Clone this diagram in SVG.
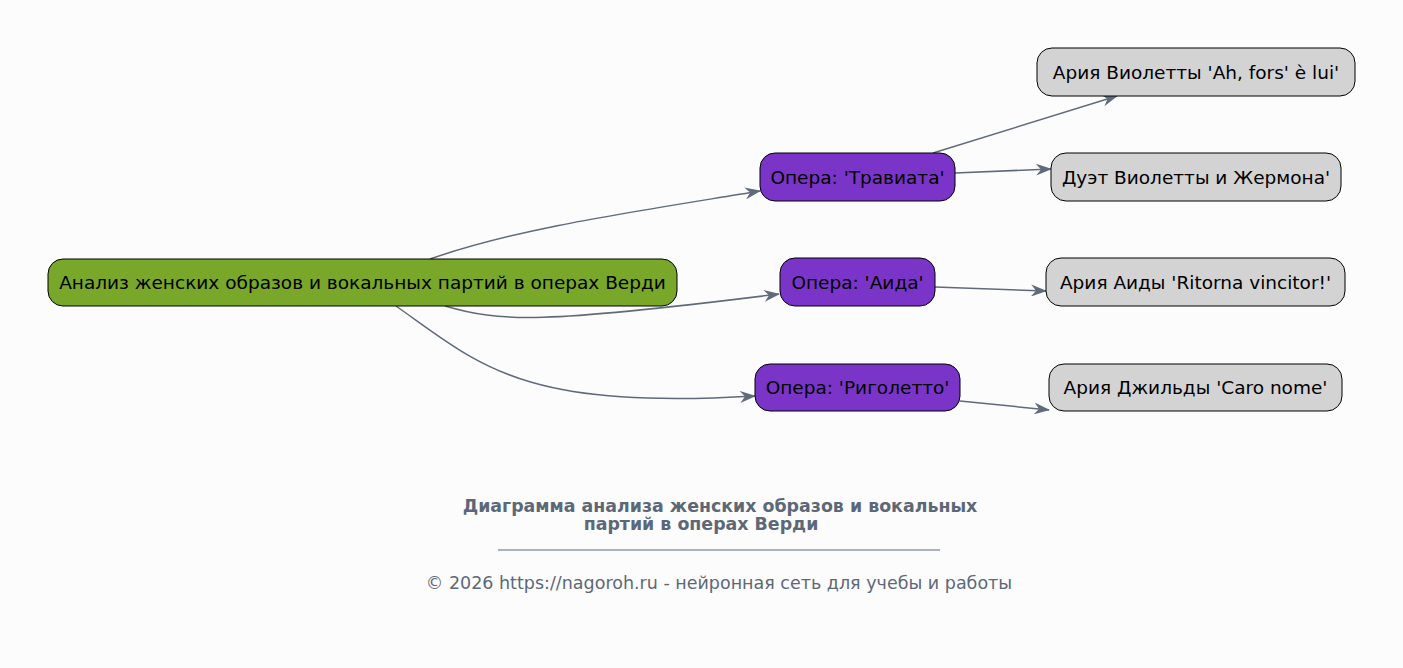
<svg xmlns="http://www.w3.org/2000/svg" width="1403" height="668" viewBox="0 0 1403 668">
<style>
text{font-family:"DejaVu Sans",sans-serif}
.lbl{font-size:18.5px;fill:#000;text-anchor:middle;dominant-baseline:central}
.nd{stroke:#000;stroke-width:1}
.root{fill:#78a72a}
.op{fill:#7a35c8}
.ar{fill:#d3d3d3}
.e{fill:none;stroke:#5f6b7a;stroke-width:1.5;marker-end:url(#a)}
.t{font-size:17.4px;font-weight:bold;fill:#5c6878;text-anchor:middle}
.c{font-size:17.5px;fill:#5c6878;text-anchor:middle}
</style>
<defs>
<marker id="a" viewBox="0 0 16 12" refX="15" refY="6" markerWidth="16" markerHeight="12" markerUnits="userSpaceOnUse" orient="auto">
<path d="M0,0 L16,6 L0,12 L5,6 Z" fill="#5f6b7a"/>
</marker>
</defs>
<rect width="1403" height="668" fill="#fcfcfc"/>
<g id="edges">
<path class="e" d="M430,259 C520,228 620,214 760,191"/>
<path class="e" d="M445,306 C500,322 540,324 779,294"/>
<path class="e" d="M396,306 C480,365 520,410 755,396"/>
<path class="e" d="M933,153 L1117,96"/>
<path class="e" d="M955,173 L1051,169"/>
<path class="e" d="M935,287 L1046,291"/>
<path class="e" d="M960,401 L1049,410"/>
</g>
<g id="root"><rect class="nd root" x="48" y="259" width="629" height="47" rx="15"/><text class="lbl" x="362.5" y="282.5">Анализ женских образов и вокальных партий в операх Верди</text></g>
<g id="traviata"><rect class="nd op" x="760" y="153" width="195" height="48" rx="15"/><text class="lbl" x="857.5" y="177">Опера: 'Травиата'</text></g>
<g id="aida"><rect class="nd op" x="780" y="258" width="155" height="48" rx="15"/><text class="lbl" x="857.5" y="282">Опера: 'Аида'</text></g>
<g id="rigoletto"><rect class="nd op" x="755" y="364" width="205" height="47" rx="15"/><text class="lbl" x="857.5" y="387.5">Опера: 'Риголетто'</text></g>
<g id="ahfors"><rect class="nd ar" x="1037" y="48" width="318" height="48" rx="15"/><text class="lbl" x="1196" y="72">Ария Виолетты 'Ah, fors' è lui'</text></g>
<g id="duet"><rect class="nd ar" x="1051" y="153" width="290" height="48" rx="15"/><text class="lbl" x="1196" y="177">Дуэт Виолетты и Жермона'</text></g>
<g id="ritorna"><rect class="nd ar" x="1046" y="258" width="299" height="48" rx="15"/><text class="lbl" x="1195.5" y="282">Ария Аиды 'Ritorna vincitor!'</text></g>
<g id="caro"><rect class="nd ar" x="1049" y="364" width="293" height="47" rx="15"/><text class="lbl" x="1195.5" y="387.5">Ария Джильды 'Caro nome'</text></g>
<g id="footer">
<text class="t" x="720" y="512">Диаграмма анализа женских образов и вокальных</text>
<text class="t" x="701" y="530">партий в операх Верди</text>
<line x1="498" y1="550" x2="940" y2="550" stroke="#5c6878" stroke-width="1"/>
<text class="c" x="719" y="589">© 2026 https://nagoroh.ru - нейронная сеть для учебы и работы</text>
</g>
</svg>
